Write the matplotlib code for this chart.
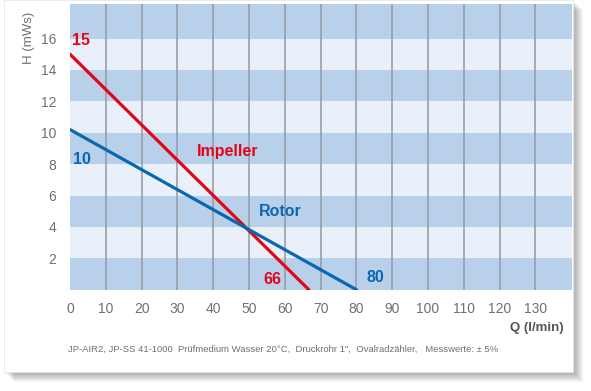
import matplotlib
matplotlib.use("Agg")
import matplotlib.pyplot as plt
from matplotlib.patches import Rectangle

W, H = 591, 391
plt.rcParams['font.family'] = ['Liberation Sans', 'DejaVu Sans']

# data
impeller_q = [0, 66.7]
impeller_h = [15, 0]
rotor_q = [0, 80]
rotor_h = [10.2, 0]
x_ticks = [0, 10, 20, 30, 40, 50, 60, 70, 80, 90, 100, 110, 120, 130]
y_ticks = [2, 4, 6, 8, 10, 12, 14, 16]
band_edges = [0, 2, 4, 6, 8, 10, 12, 14, 16, 18.2]

RED = '#e30618'
BLUE = '#0a67b1'
DARK = '#b8d0ea'
LIGHT = '#e9f0f9'
GRAY = '#707070'

fig = plt.figure(figsize=(W/100, H/100), dpi=100)
fig.patch.set_facecolor('white')

# card shadow
for i in range(10):
    off = 1 + i
    fig.patches.append(Rectangle(((4+off)/W, 1-(372+off)/H), 569/W, 372/H,
                                 transform=fig.transFigure, facecolor='black',
                                 alpha=0.035, edgecolor='none', zorder=-3))
fig.patches.append(Rectangle((4/W, 1-372/H), 569/W, 372/H, transform=fig.transFigure,
                             facecolor='white', edgecolor='#e6e6e6', lw=0.5, zorder=-2))

ax = fig.add_axes([70/W, (H-289.7)/H, (572-70)/W, (289.7-4)/H])
ax.set_xlim(0, 140.2)
ax.set_ylim(0, 18.2)
ax.patch.set_alpha(0)
for i in range(len(band_edges)-1):
    ax.axhspan(band_edges[i], band_edges[i+1], color=DARK if i % 2 == 0 else LIGHT, lw=0, zorder=0)
for x in x_ticks[1:]:
    ax.axvline(x, color='#9499a0', lw=1.1, zorder=1)
for s in ax.spines.values():
    s.set_visible(False)

ax.plot(impeller_q, impeller_h, color=RED, lw=2.3, solid_capstyle='round', zorder=3)
ax.plot(rotor_q, rotor_h, color=BLUE, lw=2.3, solid_capstyle='round', zorder=3)

ax.set_xticks(x_ticks)
ax.set_yticks(y_ticks)
ax.tick_params(length=0, labelsize=10, colors=GRAY)
ax.tick_params(axis='x', pad=9)
ax.tick_params(axis='y', pad=10)

bold = dict(fontweight='bold', fontsize=11.5)
ax.text(0.6, 15.9, '15', color=RED, va='center', ha='left', **bold)
ax.text(0.8, 8.3, '10', color=BLUE, va='center', ha='left', **bold)
ax.text(35.5, 8.8, 'Impeller', color=RED, va='center', ha='left', **bold)
ax.text(52.8, 4.95, 'Rotor', color=BLUE, va='center', ha='left', **bold)
ax.text(53.9, 0.68, str(66), color=RED, va='center', ha='left', **bold)
ax.text(82.7, 0.75, str(80), color=BLUE, va='center', ha='left', **bold)

fig.text(29/W, 1-38/H, 'H (mWs)', rotation=90, ha='center', va='center', color=GRAY, fontsize=9.5)
fig.text(564/W, 1-328/H, 'Q (l/min)', ha='right', va='center', color='#555555', fontsize=9.5, fontweight='bold')
fig.text(68/W, 1-349/H,
         'JP-AIR2, JP-SS 41-1000  Prüfmedium Wasser 20°C,  Druckrohr 1",  Ovalradzähler,   Messwerte: ± 5%',
         ha='left', va='center', color=GRAY, fontsize=6.8)

fig.savefig('out.png', dpi=100)
